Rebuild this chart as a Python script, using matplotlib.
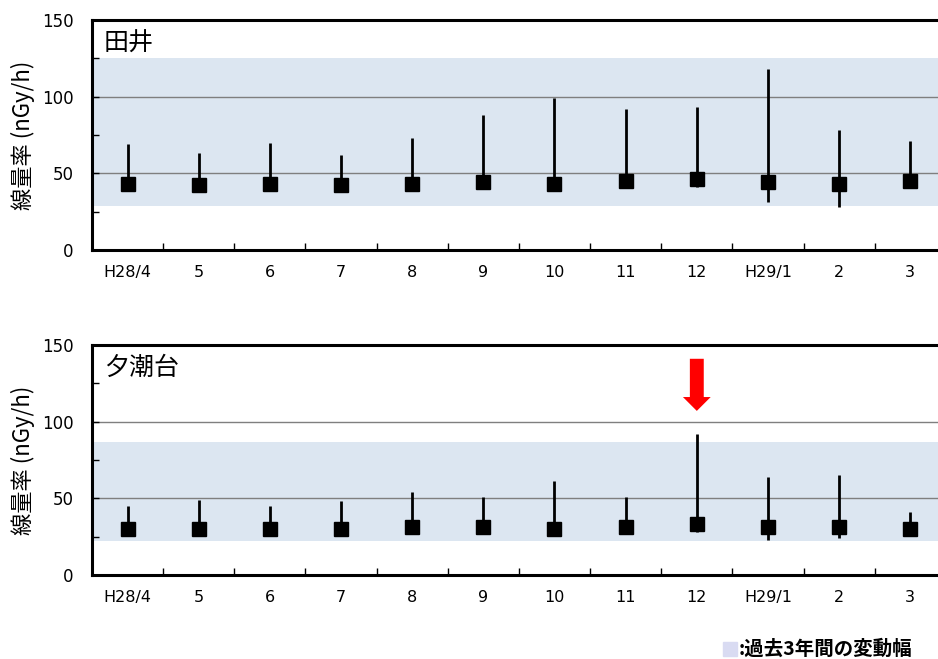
import matplotlib
matplotlib.use("Agg")
import matplotlib.pyplot as plt
from matplotlib.patches import Rectangle
from matplotlib.ticker import MultipleLocator, FixedLocator

plt.rcParams['font.family'] = ['Noto Sans CJK JP', 'DejaVu Sans']
latin = ['DejaVu Sans', 'Noto Sans CJK JP']

months = ['H28/4', '5', '6', '7', '8', '9', '10', '11', '12', 'H29/1', '2', '3']

# 田井
tai_mean = [43.3, 42.4, 43.3, 42.4, 43.3, 44.3, 43.3, 45.2, 46.0, 44.3, 43.3, 45.2]
tai_max = [69, 63, 70, 62, 73, 88, 99, 92, 93, 118, 78, 71]
tai_min = [41, 40, 41, 40, 41, 42, 41, 43, 41, 31, 28, 40.5]
tai_band = (29, 125)

# 夕潮台
yu_mean = [30.0, 30.0, 30.0, 30.2, 31.5, 31.5, 30.2, 31.5, 33.3, 31.5, 31.5, 30.0]
yu_max = [45, 49, 45, 48, 54, 51, 61, 51, 92, 64, 65, 41]
yu_min = [28, 28, 28, 28, 29, 29, 28, 29, 28, 23, 24, 28]
yu_band = (22.4, 86.5)

panels = [
    ('田井', tai_mean, tai_max, tai_min, tai_band),
    ('夕潮台', yu_mean, yu_max, yu_min, yu_band),
]

fig = plt.figure(figsize=(9.38, 6.59), dpi=100)
ax_pos = [[0.098, 0.6206, 0.9104, 0.349], [0.098, 0.1275, 0.9104, 0.349]]

x = list(range(len(months)))
axes = []
for pos, (name, mean, vmax, vmin, band) in zip(ax_pos, panels):
    ax = fig.add_axes(pos)
    ax.axhspan(band[0], band[1], color='#dce6f1', zorder=0, lw=0)
    for gy in [50, 100]:
        ax.axhline(gy, color='#7f7f7f', lw=1, zorder=1)
    ax.vlines(x, vmin, vmax, color='black', lw=2, zorder=3)
    ax.plot(x, mean, 's', color='black', ms=10, zorder=4)

    ax.set_xlim(-0.5, 11.5)
    ax.set_ylim(0, 150)
    ax.set_xticks(x)
    ax.set_xticklabels(months, fontsize=11.5, family=latin)
    ax.xaxis.set_minor_locator(FixedLocator([i + 0.5 for i in range(-1, 12)]))
    ax.tick_params(axis='x', which='major', length=0, pad=11)
    ax.tick_params(axis='x', which='minor', direction='in', length=5, width=1)
    ax.set_yticks([0, 50, 100, 150])
    ax.set_yticklabels(['0', '50', '100', '150'], fontsize=12, family=latin)
    ax.yaxis.set_minor_locator(MultipleLocator(25))
    ax.tick_params(axis='y', which='both', direction='in', length=5, width=1, pad=13)
    for s in ['left', 'bottom', 'top']:
        ax.spines[s].set_linewidth(2.2)
    ax.spines['right'].set_visible(False)
    ax.set_ylabel('線量率 (nGy/h)', fontsize=16, labelpad=5)
    ax.text(0.014, 0.955, name, transform=ax.transAxes, fontsize=18,
            va='top', ha='left')
    axes.append(ax)

# red arrow over 12
axes[1].annotate('', xy=(8, 107), xytext=(8, 141),
                 arrowprops=dict(arrowstyle='simple,head_width=2,head_length=1,tail_width=1',
                                 mutation_scale=10, color='#ff0000', lw=0,
                                 shrinkA=0, shrinkB=0))

# legend
fig.patches.append(Rectangle((723 / 938, 1 - 656 / 659), 14 / 938, 14 / 659,
                             transform=fig.transFigure, color='#d9dbf2'))
fig.text(739 / 938, 1 - 649 / 659, ':過去3年間の変動幅', fontsize=14,
         fontweight='bold', va='center', ha='left')

fig.savefig('out.png', dpi=100)
